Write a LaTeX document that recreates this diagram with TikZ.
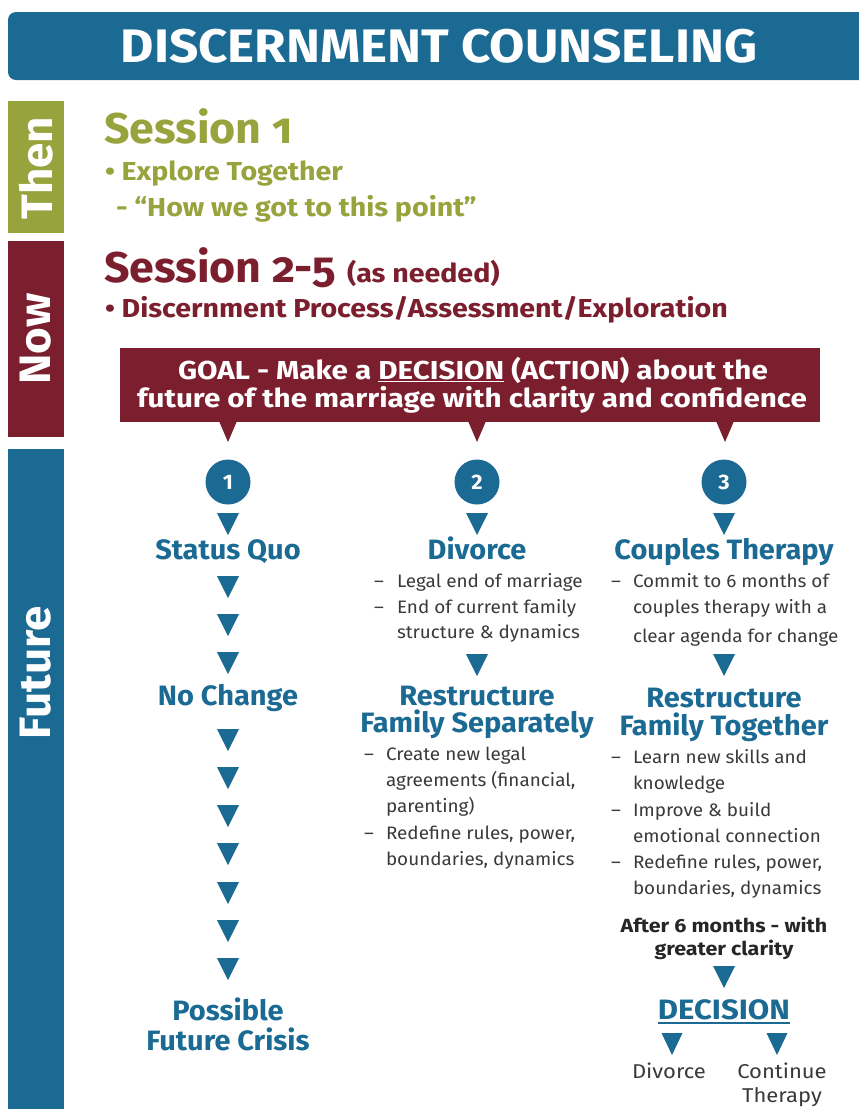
\documentclass[tikz,border=0pt]{standalone}
\usepackage{fontspec}
\setmainfont{Fira Sans}
\newfontfamily\fTitle[FakeStretch=1.09]{Fira Sans}
\newfontfamily\fSess[FakeStretch=1.04]{Fira Sans}
\newfontfamily\fSessOld[FakeStretch=1.04,Numbers=OldStyle]{Fira Sans}
\newfontfamily\fSub[FakeStretch=1.1]{Fira Sans}
\newfontfamily\fGoal[FakeStretch=1.14]{Fira Sans}
\newfontfamily\fHead[FakeStretch=1.035]{Fira Sans}
\newfontfamily\fDec[FakeStretch=1.11]{Fira Sans}
\newfontfamily\fBody[FakeStretch=1.05]{Fira Sans}
\newfontfamily\fAfter[FakeStretch=1.13]{Fira Sans}
\newfontfamily\fSmall[FakeStretch=1.1]{Fira Sans}
\definecolor{bl}{HTML}{1B6A94}
\definecolor{gr}{HTML}{97A33C}
\definecolor{mr}{HTML}{7B1F2E}
\definecolor{tx}{HTML}{3A3A3A}
\newcommand\titlefont{\fTitle\fontsize{47}{50}\selectfont\bfseries}
\newcommand\sidefont{\fSess\fontsize{44}{48}\selectfont\bfseries}
\newcommand\sessfont{\fSessOld\fontsize{43}{46}\selectfont\bfseries}
\newcommand\subfont{\fSub\fontsize{26}{30}\selectfont\bfseries}
\newcommand\smallbold{\fSub\fontsize{26}{30}\selectfont\bfseries}
\newcommand\goalfont{\fGoal\fontsize{26}{30}\selectfont\bfseries}
\newcommand\headfont{\fHead\fontsize{28}{30}\selectfont\bfseries}
\newcommand\decfont{\fDec\fontsize{28}{30}\selectfont\bfseries}
\newcommand\bodyfont{\fBody\fontsize{18}{26}\selectfont}
\newcommand\afterfont{\fAfter\fontsize{19}{23}\selectfont\bfseries}
\newcommand\numfont{\fSess\fontsize{21}{24}\selectfont\bfseries}
\newcommand\outfont{\fSmall\fontsize{20}{24}\selectfont}
\begin{document}
\begin{tikzpicture}[x=1pt,y=-1pt,
  every node/.style={inner sep=0pt,outer sep=0pt},
  dtri/.pic={\fill[bl] (-11,-11) -- (11,-11) -- (0,11) -- cycle;},
  stri/.pic={\fill[bl] (-10.5,-11) -- (10.5,-11) -- (0,11) -- cycle;},
  gptr/.pic={\fill[mr] (-9,-1) -- (9,-1) -- (0,20) -- cycle;},
  sidebar/.style={font=\sidefont,text=white,rotate=90},
  numcirc/.style={circle,fill=bl,minimum size=45pt,font=\numfont,text=white},
  head/.style={font=\headfont,text=bl,anchor=base},
  body/.style={font=\bodyfont,text=tx,anchor=base west},
  dashmark/.style={font=\bodyfont,text=tx,anchor=base west},
  after/.style={font=\afterfont,text=black!85,anchor=base},
  plain/.style={font=\outfont,text=tx,anchor=base}]
\useasboundingbox (0,0) rectangle (859,1109);
\fill[white] (0,0) rectangle (859,1109);

% title bar
\fill[bl,rounded corners=8pt] (870,12) -- (8,12) -- (8,80) -- (870,80) -- cycle;
\node[font=\titlefont,text=white,anchor=base] (title) at (439,62) {DISCERNMENT COUNSELING};

% side bars
\fill[gr] (8,101) rectangle (64,233);
\fill[mr] (8,241) rectangle (64,437);
\fill[bl] (8,449) rectangle (64,1109);
\node[sidebar] (then) at (36,168) {Then};
\node[sidebar] (now) at (36,339) {Now};
\node[sidebar] (future) at (36,673) {Future};

% session 1
\node[font=\sessfont,text=gr,anchor=base west] (s1) at (104,143) {Session 1};
\node[font=\subfont,text=gr,anchor=base west] (s1a) at (105,180) {• Explore Together};
\node[font=\subfont,text=gr,anchor=base west] (s1b) at (116,216) {- “How we got to this point”};

% session 2-5
\node[font=\sessfont,text=mr,anchor=base west] (s2) at (104,282) {Session 2-5 {\smallbold(as needed)}};
\node[font=\subfont,text=mr,anchor=base west] (s2a) at (105,317) {• Discernment Process/Assessment/Exploration};

% goal box
\fill[mr] (120,348) rectangle (820,422);
\pic at (228,422) {gptr};
\pic at (477,422) {gptr};
\pic at (725,422) {gptr};
\node[font=\goalfont,text=white,anchor=base] (goal1) at (473,379) {GOAL - Make a \underline{DECISION} (ACTION) about the};
\node[font=\goalfont,text=white,anchor=base] (goal2) at (472,407) {future of the marriage with clarity and confidence};

% circles
\node[numcirc] (c1) at (228,482) {1};
\node[numcirc] (c2) at (477,482) {2};
\node[numcirc] (c3) at (724,482) {3};

% column 1
\foreach \y in {524,587,625,663,740,778,816,854,893,931,969} {\pic at (228,\y) {dtri};}
\node[head] (sq) at (228,559) {Status Quo};
\node[head] (nc) at (228,705) {No Change};
\node[head] (pf1) at (228,1020) {Possible};
\node[head] (pf2) at (228,1050) {Future Crisis};

% column 2
\pic at (477,524) {dtri};
\pic at (477,665) {dtri};
\node[head] (dv) at (477,559) {Divorce};
\node[dashmark] (d21) at (374,587) {–};
\node[body] (t21) at (397,587) {Legal end of marriage};
\node[dashmark] (d22) at (374,613) {–};
\node[body] (t22) at (397,613) {End of current family};
\node[body] (t23) at (397,638) {structure \& dynamics};
\node[head] (rs1) at (477,705) {Restructure};
\node[head] (rs2) at (477,732) {Family Separately};
\node[dashmark] (d24) at (364,760) {–};
\node[body] (t24) at (386,760) {Create new legal};
\node[body] (t25) at (386,786) {agreements (financial,};
\node[body] (t26) at (386,812) {parenting)};
\node[dashmark] (d27) at (364,839) {–};
\node[body] (t27) at (386,839) {Redefine rules, power,};
\node[body] (t28) at (386,865) {boundaries, dynamics};

% column 3
\pic at (724,524) {dtri};
\pic at (724,665) {dtri};
\node[head] (ct) at (724,559) {Couples Therapy};
\node[dashmark] (d31) at (611,587) {–};
\node[body] (t31) at (633,587) {Commit to 6 months of};
\node[body] (t32) at (633,613) {couples therapy with a};
\node[body] (t33) at (633,642) {clear agenda for change};
\node[head] (rt1) at (724,707) {Restructure};
\node[head] (rt2) at (724,735) {Family Together};
\node[dashmark] (d34) at (611,763) {–};
\node[body] (t34) at (633,763) {Learn new skills and};
\node[body] (t35) at (633,789) {knowledge};
\node[dashmark] (d36) at (611,816) {–};
\node[body] (t36) at (633,816) {Improve \& build};
\node[body] (t37) at (633,842) {emotional connection};
\node[dashmark] (d38) at (611,868) {–};
\node[body] (t38) at (633,868) {Redefine rules, power,};
\node[body] (t39) at (633,894) {boundaries, dynamics};
\node[after] (af1) at (724,932) {After 6 months - with};
\node[after] (af2) at (724,955) {greater clarity};
\pic at (724,977) {dtri};
\node[head,font=\decfont] (dec) at (724,1019) {DECISION};
\draw[bl,line width=1.6pt] (dec.base west) ++(0,4) coordinate (ul1) -- (dec.base east |- ul1);
\pic at (672,1044) {stri};
\pic at (777,1044) {stri};
\node[plain] (fdv) at (669,1078) {Divorce};
\node[plain] (fct1) at (782,1078) {Continue};
\node[plain] (fct2) at (782,1102) {Therapy};
\end{tikzpicture}
\end{document}
